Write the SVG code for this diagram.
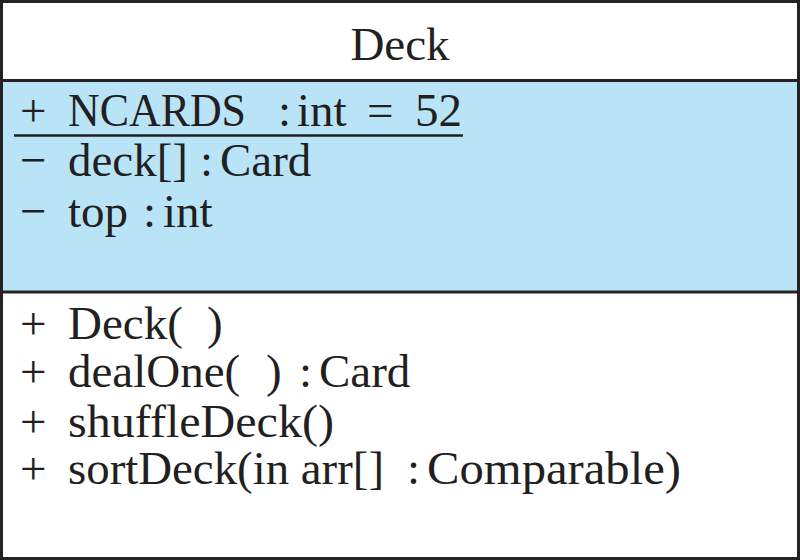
<svg xmlns="http://www.w3.org/2000/svg" width="800" height="560" viewBox="0 0 800 560">
  <style>
    .frame { fill: none; stroke: #262223; stroke-width: 3; }
    .rule { stroke: #262223; stroke-width: 3; }
    .attrs { fill: #b9e4f8; }
    .t { font-family: "Liberation Serif", "Times New Roman", serif; font-size: 47px; fill: #231f20; }
    .title { font-size: 47px; }
  </style>
  <g id="deck-class">
    <!-- compartments -->
    <rect x="0" y="0" width="800" height="560" fill="#ffffff"/>
    <rect class="attrs" x="1.5" y="81" width="797" height="211"/>
    <line class="rule" x1="1.5" y1="80.5" x2="798.5" y2="80.5"/>
    <line class="rule" x1="1.5" y1="292" x2="798.5" y2="292"/>
    <rect class="frame" x="1.5" y="1.5" width="797" height="557"/>

    <!-- class name -->
    <text class="t title" x="400" y="60" text-anchor="middle">Deck</text>

    <!-- attributes -->
    <g id="attributes">
      <text class="t" y="126"><tspan x="20">+</tspan><tspan x="68" textLength="178" lengthAdjust="spacingAndGlyphs">NCARDS</tspan><tspan x="278">:</tspan><tspan x="297">int</tspan><tspan x="367">=</tspan><tspan x="415">52</tspan></text>
      <line x1="14" y1="135.5" x2="463" y2="135.5" stroke="#231f20" stroke-width="2.5"/>
      <text class="t" y="176"><tspan x="20">−</tspan><tspan x="68">deck[]</tspan><tspan x="200">:</tspan><tspan x="220">Card</tspan></text>
      <text class="t" y="227"><tspan x="20">−</tspan><tspan x="68">top</tspan><tspan x="143">:</tspan><tspan x="163">int</tspan></text>
    </g>

    <!-- operations -->
    <g id="operations">
      <text class="t" y="339"><tspan x="20">+</tspan><tspan x="68">Deck(</tspan><tspan x="207">)</tspan></text>
      <text class="t" y="387"><tspan x="20">+</tspan><tspan x="68">dealOne(</tspan><tspan x="266">)</tspan><tspan x="299">:</tspan><tspan x="319">Card</tspan></text>
      <text class="t" y="437"><tspan x="20">+</tspan><tspan x="68" textLength="266" lengthAdjust="spacingAndGlyphs">shuffleDeck()</tspan></text>
      <text class="t" y="484"><tspan x="20">+</tspan><tspan x="68" textLength="316" lengthAdjust="spacingAndGlyphs">sortDeck(in arr[]</tspan><tspan x="407">:</tspan><tspan x="427" textLength="254" lengthAdjust="spacingAndGlyphs">Comparable)</tspan></text>
    </g>
  </g>
</svg>
